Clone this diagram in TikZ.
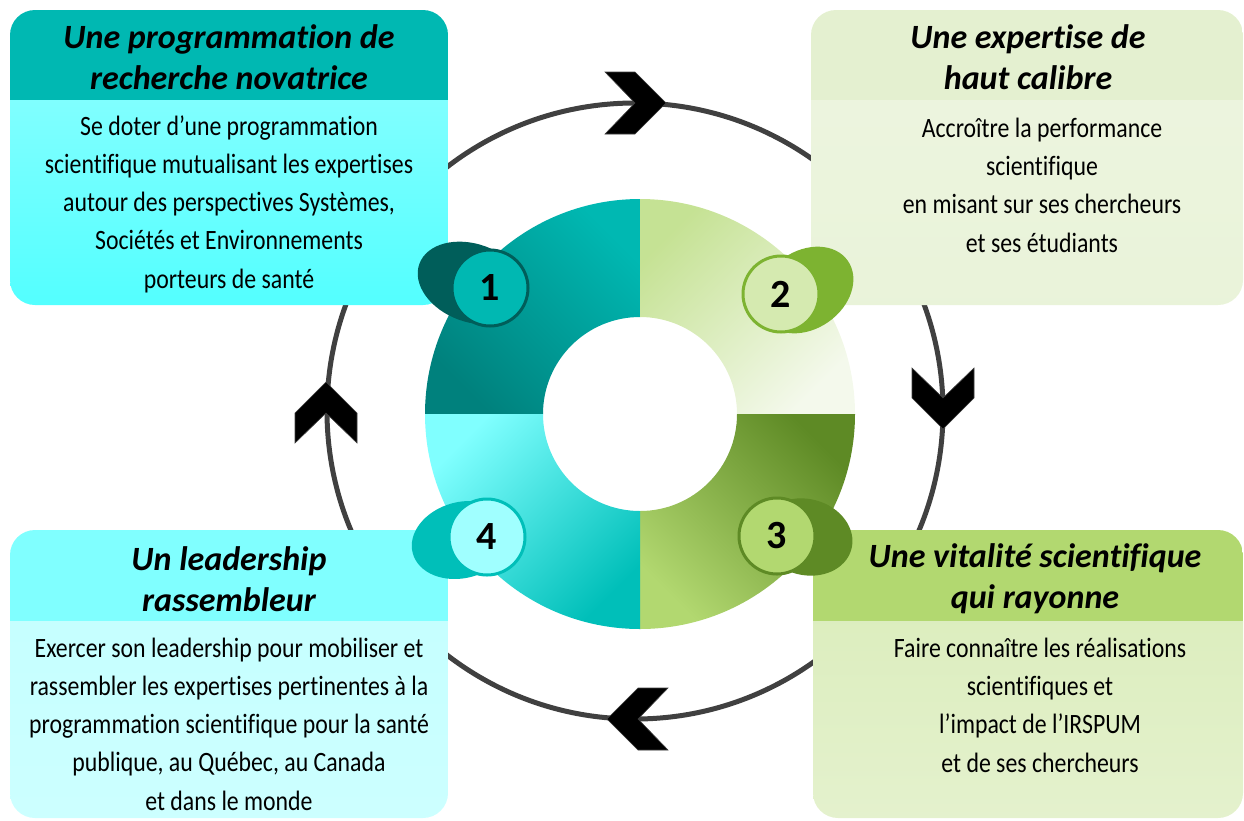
\documentclass[tikz,border=0pt]{standalone}
\usepackage{fontspec}
\setmainfont{Carlito}[Ligatures=NoCommon]
\newfontfamily\corps[FakeStretch=0.85,Ligatures=NoCommon]{Carlito}
\usepackage{tikz}
\usetikzlibrary{calc}

\definecolor{tealF}{HTML}{00B8B2}
\definecolor{tealS}{HTML}{005E5A}
\definecolor{cyanC}{HTML}{80FFFF}
\definecolor{cyanM}{HTML}{00BFB9}
\definecolor{vertP}{HTML}{E4F0D0}
\definecolor{vertC}{HTML}{B2D870}
\definecolor{vertM}{HTML}{7DB331}
\definecolor{vertF}{HTML}{5E8A25}
\definecolor{anneau}{HTML}{404040}

\begin{document}
\begin{tikzpicture}[x=1pt,y=-1pt,
			titre/.style={font=\bfseries\itshape\fontsize{34}{41}\selectfont,align=center,inner sep=0pt},
			texte/.style={font=\corps\fontsize{28}{38.3}\selectfont,align=center,inner sep=0pt},
			pastille/.style={circle,minimum size=76pt,inner sep=0pt,line width=3pt,
				font=\bfseries\fontsize{40}{40}\selectfont},
			chevron/.style={fill=black,draw=anneau,line width=0.6pt}]
	\useasboundingbox (0,0) rectangle (1244,820);

	% grand cercle et chevrons
	\draw[anneau,line width=5pt] (635,411) circle[radius=308pt];
	\foreach \x/\y/\a in {635/103/0, 943/398/-90, 638/719/180, 326/413/90}
		\draw[chevron,shift={(\x,\y)},rotate=\a]
			(-30,-31) -- (0,-31) -- (31,0) -- (0,31) -- (-30,31) -- (0,0) -- cycle;

	% cadres
	\begin{scope}
		\clip[rounded corners=25pt] (10,10) rectangle (448,305);
		\shade[top color=cyanC,bottom color=cyanC!65!cyan] (10,100) rectangle (448,305);
		\fill[tealF] (10,10) rectangle (448,100);
	\end{scope}
	\begin{scope}
		\clip[rounded corners=25pt] (811,10) rectangle (1243,305);
		\shade[top color=vertP!70!white,bottom color=vertP!80!white] (811,100) rectangle (1243,305);
		\fill[vertP] (811,10) rectangle (1243,100);
	\end{scope}
	\begin{scope}
		\clip[rounded corners=25pt] (813,530) rectangle (1243,818);
		\shade[top color=vertC!45!white,bottom color=vertC!35!white] (813,621) rectangle (1243,818);
		\fill[vertC] (813,530) rectangle (1243,621);
	\end{scope}
	\begin{scope}
		\clip[rounded corners=25pt] (10,530) rectangle (448,818);
		\shade[top color=cyanC!45!white,bottom color=cyanC!40!white] (10,621) rectangle (448,818);
		\fill[cyanC] (10,530) rectangle (448,621);
	\end{scope}

	\node[titre] (t1) at (229,57) {Une programmation de\\recherche novatrice};
	\node[titre] (t2) at (1028,57) {Une expertise de\\haut calibre};
	\node[titre] (t3) at (1035,579) {Une vitalité scientifique\\qui rayonne};
	\node[titre] (t4) at (229,579) {Un leadership\\rassembleur};

	\node[texte] (c1) at (229,204) {Se doter d’une programmation\\scientifique mutualisant les expertises\\
		autour des perspectives Systèmes,\\Sociétés et Environnements\\porteurs de santé};
	\node[texte] (c2) at (1042,185) {Accroître la performance\\scientifique\\en misant sur ses chercheurs\\et ses étudiants};
	\node[texte] (c3) at (1040,705) {Faire connaître les réalisations\\scientifiques et\\l’impact de l’IRSPUM\\et de ses chercheurs};
	\node[texte] (c4) at (229,724) {Exercer son leadership pour mobiliser et\\rassembler les expertises pertinentes à la\\
		programmation scientifique pour la santé\\publique, au Québec, au Canada\\et dans le monde};

	% anneau central
	\shade[top color=tealF,bottom color=tealF!70!black,shading angle=-45]
		(640,414) ++(180:215) arc[start angle=180,end angle=270,radius=215]
		-- ++(0,118) arc[start angle=270,end angle=180,radius=97] -- cycle;
	\shade[top color=vertC!75!white,bottom color=vertP!40!white,shading angle=45]
		(640,414) ++(270:215) arc[start angle=270,end angle=360,radius=215]
		-- ++(-118,0) arc[start angle=360,end angle=270,radius=97] -- cycle;
	\shade[top color=vertF,bottom color=vertC,shading angle=-45]
		(640,414) ++(0:215) arc[start angle=0,end angle=90,radius=215]
		-- ++(0,-118) arc[start angle=90,end angle=0,radius=97] -- cycle;
	\shade[top color=cyanC,bottom color=cyanM,shading angle=45]
		(640,414) ++(90:215) arc[start angle=90,end angle=180,radius=215]
		-- ++(118,0) arc[start angle=180,end angle=90,radius=97] -- cycle;

	% pastilles
	\fill[tealS,rotate around={-20:(472,283)}] (472,283) ellipse[x radius=56pt,y radius=39pt];
	\node[pastille,fill=tealF,draw=tealS] (n1) at (490,288) {1};
	\fill[vertM,rotate around={35:(806,290)}] (806,290) ellipse[x radius=51pt,y radius=39pt];
	\node[pastille,fill=vertC!55!white,draw=vertM] (n2) at (781,294) {2};
	\fill[vertF,rotate around={-15:(806,537)}] (806,537) ellipse[x radius=47pt,y radius=38pt];
	\node[pastille,fill=vertC,draw=vertF] (n3) at (777,536) {3};
	\fill[cyanM,rotate around={15:(462,540)}] (462,540) ellipse[x radius=51pt,y radius=38pt];
	\node[pastille,fill=cyanC!75!white,draw=cyanM] (n4) at (487,537) {4};
\end{tikzpicture}
\end{document}
